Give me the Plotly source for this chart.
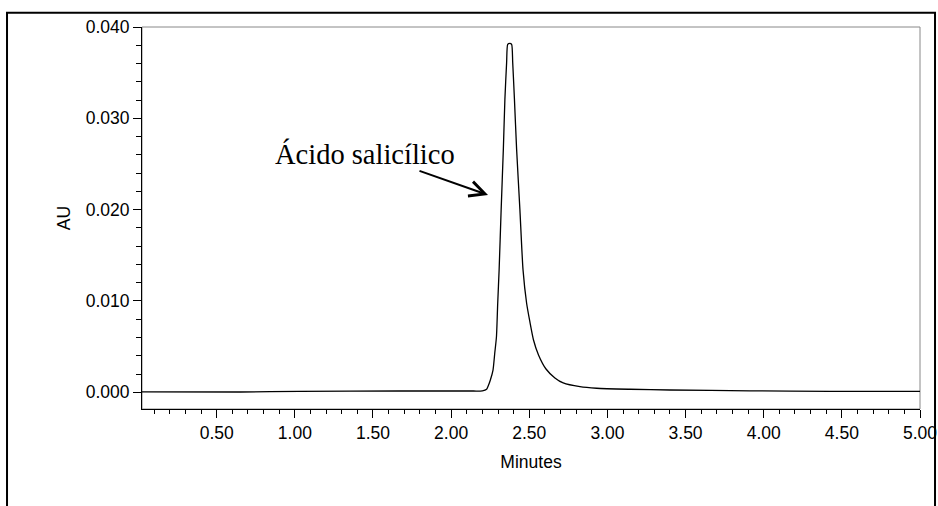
import plotly.graph_objects as go

# Chromatogram trace: retention time (min) vs absorbance (AU)
minutes = [0.02, 0.65, 1.03, 1.67, 2.12, 2.20, 2.227, 2.237, 2.251, 2.268,
           2.279, 2.290, 2.298, 2.307, 2.320, 2.334, 2.344, 2.355, 2.362, 2.375,
           2.387, 2.394, 2.405, 2.419, 2.440, 2.460, 2.483, 2.504, 2.527, 2.559,
           2.607, 2.664, 2.717, 2.824, 2.931, 3.144, 3.400, 3.912, 4.424, 5.000]
absorbance = [0.00005, 0.00003, 0.00011, 0.00014, 0.00014, 0.00016, 0.00033, 0.00069, 0.00135, 0.00244,
              0.00427, 0.00609, 0.00975, 0.01340, 0.0200, 0.0266, 0.0321, 0.0361, 0.0381, 0.0382,
              0.0381, 0.0361, 0.0321, 0.0266, 0.0200, 0.0134, 0.00975, 0.00770, 0.00573, 0.00409,
              0.00255, 0.00157, 0.00102, 0.00061, 0.00044, 0.00033, 0.00025, 0.00016, 0.00011, 0.00009]

x_ticks = [0.5, 1.0, 1.5, 2.0, 2.5, 3.0, 3.5, 4.0, 4.5, 5.0]
x_labels = ["0.50", "1.00", "1.50", "2.00", "2.50", "3.00", "3.50", "4.00", "4.50", "5.00"]
y_ticks = [0.0, 0.01, 0.02, 0.03, 0.04]
y_labels = ["0.000", "0.010", "0.020", "0.030", "0.040"]

peak_name = "Ácido salicílico"

SANS = "Liberation Sans, Arial, sans-serif"
SERIF = "Liberation Serif, Times New Roman, serif"

fig = go.Figure()
fig.add_trace(go.Scatter(
    x=minutes, y=absorbance, mode="lines",
    line=dict(color="black", width=1.3, shape="spline", smoothing=0.6),
    showlegend=False, hoverinfo="skip",
))

axis_common = dict(
    showgrid=False, zeroline=False, automargin=False,
    showline=True, linecolor="black", linewidth=1,
    ticks="outside", ticklen=8, tickwidth=1, tickcolor="black",
    tickfont=dict(family=SANS, size=17.5, color="black"),
)

fig.update_xaxes(
    range=[0.022, 5.0], tickvals=x_ticks, ticktext=x_labels,
    minor=dict(dtick=0.1, tick0=0, ticks="outside", ticklen=4, tickcolor="black", showgrid=False),
    title=dict(text="Minutes", font=dict(family=SANS, size=17.5, color="black"), standoff=13),
    **axis_common,
)
fig.update_yaxes(
    range=[-0.00183, 0.0400], tickvals=y_ticks, ticktext=y_labels,
    minor=dict(dtick=0.002, tick0=0, ticks="outside", ticklen=5, tickcolor="black", showgrid=False),
    title=dict(text="AU", font=dict(family=SANS, size=17.5, color="black"), standoff=10),
    **axis_common,
)

# gray frame on the open sides of the plot area
fig.add_shape(type="rect", xref="paper", yref="paper", x0=0, x1=1, y0=0, y1=1,
              line=dict(color="#888888", width=1), layer="below")
# outer border of the figure
fig.add_shape(type="rect", xref="paper", yref="paper",
              x0=-0.1735, x1=1.0193, y0=-0.30, y1=1.0375,
              line=dict(color="black", width=2), layer="above")

# peak label and arrow
fig.add_annotation(x=1.449, y=0.0261, xref="x", yref="y", text=peak_name,
                   showarrow=False, font=dict(family=SERIF, size=28.5, color="black"))
fig.add_annotation(x=2.236, y=0.0216, xref="x", yref="y", text="",
                   showarrow=True, ax=1.788, ay=0.0243, axref="x", ayref="y",
                   arrowhead=5, arrowsize=1.5, arrowwidth=2, arrowcolor="black", standoff=0)

fig.update_layout(
    width=938, height=506, autosize=False,
    margin=dict(l=142, r=18, t=27, b=97),
    paper_bgcolor="white", plot_bgcolor="white",
)

fig.write_html("out.html")
